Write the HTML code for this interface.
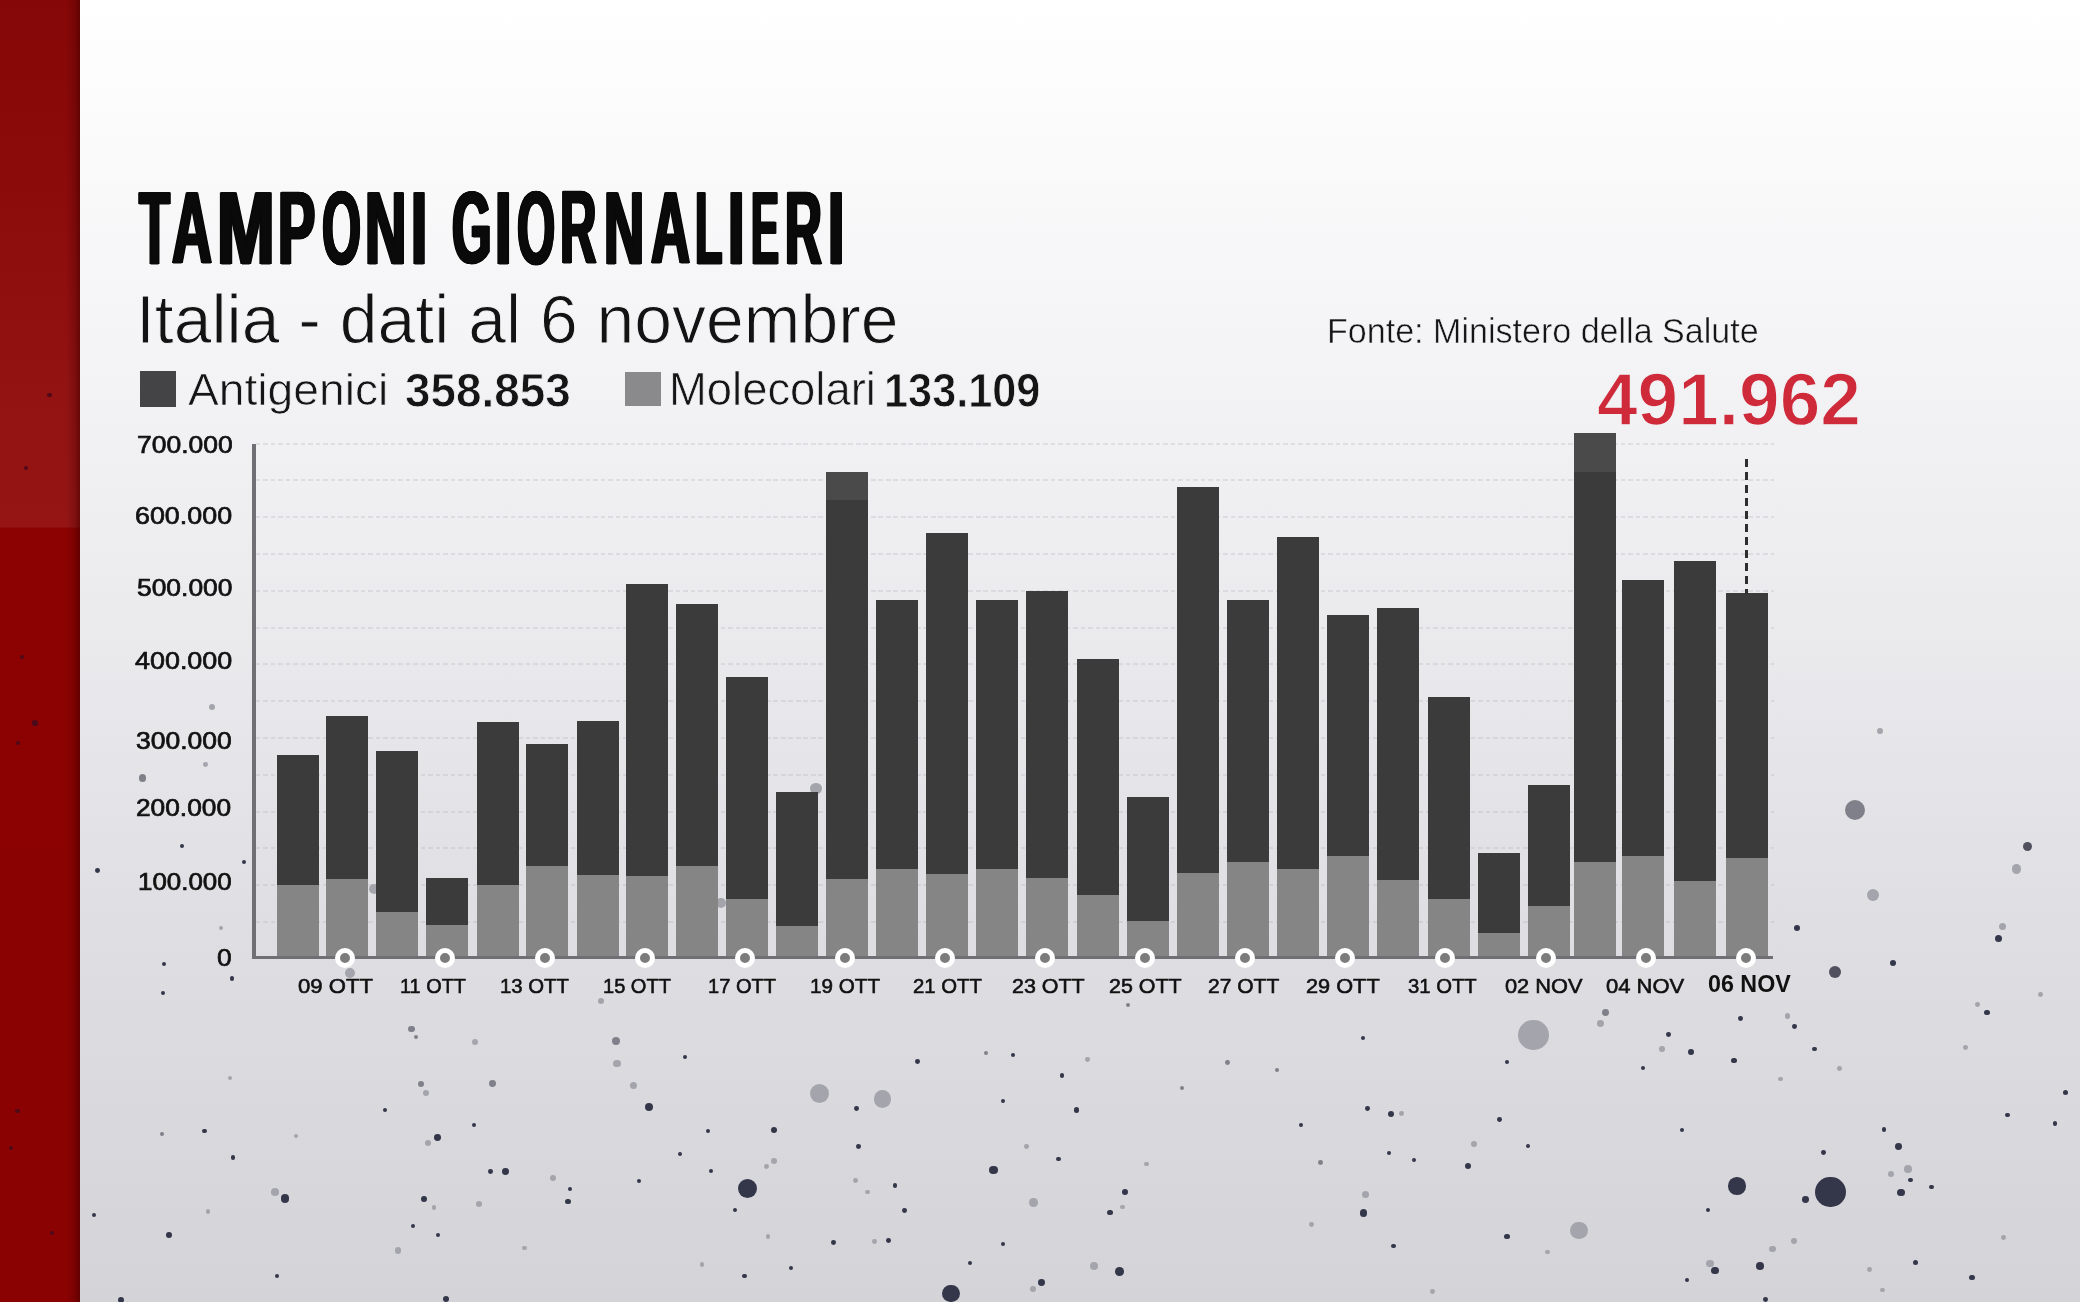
<!DOCTYPE html>
<html><head><meta charset="utf-8"><title>Tamponi giornalieri</title>
<style>
html,body{margin:0;padding:0;}
body{width:2080px;height:1302px;overflow:hidden;position:relative;font-family:"Liberation Sans",sans-serif;
background:linear-gradient(180deg,#ffffff 0px,#fbfbfc 120px,#f3f3f5 380px,#eaeaed 640px,#dedee2 950px,#d3d3d8 1302px);}
.t{position:absolute;white-space:nowrap;line-height:1;}
.a{position:absolute;}
.b{position:absolute;width:42px;background:#3b3b3b;}
.m{position:absolute;width:42px;background:#858585;}
.o{position:absolute;border-radius:50%;}
.g{position:absolute;left:256px;width:1518px;height:2px;background:repeating-linear-gradient(90deg,rgba(150,150,160,.2) 0 4.5px,transparent 4.5px 7.5px);}
</style></head><body>
<div class="a" style="left:0;top:0;width:79.5px;height:1302px;background:linear-gradient(180deg,#860707 0px,#8c0b0b 200px,#931313 400px,#951515 527px,#8c0202 528px,#8b0202 1302px);"></div>
<div class="a" style="left:66px;top:0;width:13.5px;height:1302px;background:linear-gradient(90deg,rgba(70,0,0,0) 0,rgba(70,0,0,.25) 60%,rgba(70,0,0,.6) 100%);"></div>
<div class="a" style="left:0;top:0;width:2080px;height:1302px;filter:blur(0.45px);">
<div class="o" style="left:737.9px;top:1179.0px;width:19.2px;height:19.2px;background:#34364a;"></div>
<div class="o" style="left:809.6px;top:1083.8px;width:19.2px;height:19.2px;background:#a4a4ac;"></div>
<div class="o" style="left:873.5px;top:1090.2px;width:17.4px;height:17.4px;background:#a4a4ac;"></div>
<div class="o" style="left:942.2px;top:1284.7px;width:17.4px;height:17.4px;background:#34364a;"></div>
<div class="o" style="left:1518.4px;top:1019.6px;width:30.8px;height:30.8px;background:#a4a4ac;"></div>
<div class="o" style="left:1815.3px;top:1176.5px;width:30.8px;height:30.8px;background:#34364a;"></div>
<div class="o" style="left:1728.3px;top:1177.2px;width:17.4px;height:17.4px;background:#34364a;"></div>
<div class="o" style="left:1570.3px;top:1222.1px;width:17.4px;height:17.4px;background:#a4a4ac;"></div>
<div class="o" style="left:1845.0px;top:799.8px;width:20.0px;height:20.0px;background:#80808a;"></div>
<div class="o" style="left:1867.0px;top:889.0px;width:12.0px;height:12.0px;background:#a4a4ac;"></div>
<div class="o" style="left:1829.3px;top:966.0px;width:12.0px;height:12.0px;background:#50505e;"></div>
<div class="o" style="left:2022.7px;top:842.1px;width:9.4px;height:9.4px;background:#50505e;"></div>
<div class="o" style="left:2011.7px;top:864.3px;width:9.4px;height:9.4px;background:#a4a4ac;"></div>
<div class="o" style="left:810.2px;top:782.7px;width:11.6px;height:11.6px;background:#a4a4ac;"></div>
<div class="o" style="left:368.8px;top:883.5px;width:10.0px;height:10.0px;background:#a4a4ac;"></div>
<div class="o" style="left:716.0px;top:898.0px;width:10.0px;height:10.0px;background:#a4a4ac;"></div>
<div class="o" style="left:345.0px;top:968.0px;width:10.0px;height:10.0px;background:#a4a4ac;"></div>
<div class="o" style="left:280.7px;top:1194.1px;width:8.6px;height:8.6px;background:#34364a;"></div>
<div class="o" style="left:271.4px;top:1188.2px;width:7.6px;height:7.6px;background:#a4a4ac;"></div>
<div class="o" style="left:166.1px;top:1232.3px;width:5.8px;height:5.8px;background:#34364a;"></div>
<div class="o" style="left:91.8px;top:1212.6px;width:4.4px;height:4.4px;background:#34364a;"></div>
<div class="o" style="left:202.1px;top:1128.6px;width:4.8px;height:4.8px;background:#34364a;"></div>
<div class="o" style="left:230.6px;top:1155.4px;width:4.8px;height:4.8px;background:#34364a;"></div>
<div class="o" style="left:160.0px;top:1131.6px;width:4.4px;height:4.4px;background:#80808a;"></div>
<div class="o" style="left:205.6px;top:1209.2px;width:4.8px;height:4.8px;background:#a4a4ac;"></div>
<div class="o" style="left:408.3px;top:1025.6px;width:6.8px;height:6.8px;background:#80808a;"></div>
<div class="o" style="left:414.0px;top:1034.9px;width:4.0px;height:4.0px;background:#80808a;"></div>
<div class="o" style="left:472.4px;top:1039.4px;width:6.0px;height:6.0px;background:#a4a4ac;"></div>
<div class="o" style="left:417.9px;top:1081.2px;width:6.0px;height:6.0px;background:#80808a;"></div>
<div class="o" style="left:423.0px;top:1090.4px;width:6.0px;height:6.0px;background:#a4a4ac;"></div>
<div class="o" style="left:488.9px;top:1080.3px;width:6.8px;height:6.8px;background:#80808a;"></div>
<div class="o" style="left:383.3px;top:1107.5px;width:4.0px;height:4.0px;background:#34364a;"></div>
<div class="o" style="left:434.1px;top:1134.4px;width:6.8px;height:6.8px;background:#34364a;"></div>
<div class="o" style="left:424.8px;top:1140.1px;width:6.0px;height:6.0px;background:#a4a4ac;"></div>
<div class="o" style="left:471.5px;top:1123.0px;width:4.0px;height:4.0px;background:#34364a;"></div>
<div class="o" style="left:502.1px;top:1168.1px;width:6.8px;height:6.8px;background:#34364a;"></div>
<div class="o" style="left:487.9px;top:1169.1px;width:4.8px;height:4.8px;background:#34364a;"></div>
<div class="o" style="left:420.9px;top:1195.8px;width:5.8px;height:5.8px;background:#34364a;"></div>
<div class="o" style="left:431.7px;top:1205.1px;width:4.8px;height:4.8px;background:#a4a4ac;"></div>
<div class="o" style="left:475.6px;top:1200.5px;width:6.0px;height:6.0px;background:#a4a4ac;"></div>
<div class="o" style="left:549.8px;top:1175.2px;width:6.0px;height:6.0px;background:#a4a4ac;"></div>
<div class="o" style="left:565.1px;top:1198.6px;width:5.8px;height:5.8px;background:#34364a;"></div>
<div class="o" style="left:568.0px;top:1187.0px;width:4.0px;height:4.0px;background:#34364a;"></div>
<div class="o" style="left:394.6px;top:1247.4px;width:6.8px;height:6.8px;background:#a4a4ac;"></div>
<div class="o" style="left:521.8px;top:1245.6px;width:4.8px;height:4.8px;background:#a4a4ac;"></div>
<div class="o" style="left:274.6px;top:1273.6px;width:4.0px;height:4.0px;background:#34364a;"></div>
<div class="o" style="left:442.5px;top:1295.5px;width:6.8px;height:6.8px;background:#34364a;"></div>
<div class="o" style="left:118.3px;top:1297.0px;width:6.0px;height:6.0px;background:#34364a;"></div>
<div class="o" style="left:410.7px;top:1224.0px;width:4.0px;height:4.0px;background:#34364a;"></div>
<div class="o" style="left:436.2px;top:1233.2px;width:4.0px;height:4.0px;background:#34364a;"></div>
<div class="o" style="left:228.2px;top:1076.2px;width:4.0px;height:4.0px;background:#a4a4ac;"></div>
<div class="o" style="left:293.6px;top:1133.9px;width:4.0px;height:4.0px;background:#a4a4ac;"></div>
<div class="o" style="left:612.0px;top:1036.5px;width:8.0px;height:8.0px;background:#80808a;"></div>
<div class="o" style="left:613.0px;top:1059.5px;width:7.6px;height:7.6px;background:#a4a4ac;"></div>
<div class="o" style="left:629.6px;top:1081.9px;width:7.6px;height:7.6px;background:#a4a4ac;"></div>
<div class="o" style="left:644.5px;top:1102.8px;width:8.0px;height:8.0px;background:#34364a;"></div>
<div class="o" style="left:989.2px;top:1165.5px;width:8.6px;height:8.6px;background:#34364a;"></div>
<div class="o" style="left:1029.1px;top:1198.2px;width:8.6px;height:8.6px;background:#a4a4ac;"></div>
<div class="o" style="left:1038.1px;top:1278.9px;width:6.8px;height:6.8px;background:#34364a;"></div>
<div class="o" style="left:1029.9px;top:1286.0px;width:6.0px;height:6.0px;background:#a4a4ac;"></div>
<div class="o" style="left:770.5px;top:1126.9px;width:6.0px;height:6.0px;background:#34364a;"></div>
<div class="o" style="left:705.5px;top:1128.7px;width:4.8px;height:4.8px;background:#34364a;"></div>
<div class="o" style="left:854.0px;top:1105.9px;width:4.8px;height:4.8px;background:#34364a;"></div>
<div class="o" style="left:856.2px;top:1143.8px;width:4.8px;height:4.8px;background:#34364a;"></div>
<div class="o" style="left:892.5px;top:1182.8px;width:4.8px;height:4.8px;background:#34364a;"></div>
<div class="o" style="left:902.1px;top:1208.0px;width:4.8px;height:4.8px;background:#34364a;"></div>
<div class="o" style="left:885.8px;top:1238.1px;width:4.8px;height:4.8px;background:#34364a;"></div>
<div class="o" style="left:831.4px;top:1240.0px;width:4.8px;height:4.8px;background:#34364a;"></div>
<div class="o" style="left:741.8px;top:1273.6px;width:4.8px;height:4.8px;background:#34364a;"></div>
<div class="o" style="left:789.0px;top:1266.4px;width:4.0px;height:4.0px;background:#34364a;"></div>
<div class="o" style="left:1056.0px;top:1156.6px;width:4.8px;height:4.8px;background:#34364a;"></div>
<div class="o" style="left:1059.6px;top:1073.4px;width:4.8px;height:4.8px;background:#34364a;"></div>
<div class="o" style="left:1073.5px;top:1107.3px;width:5.8px;height:5.8px;background:#34364a;"></div>
<div class="o" style="left:915.1px;top:1058.8px;width:4.8px;height:4.8px;background:#34364a;"></div>
<div class="o" style="left:1010.7px;top:1053.4px;width:4.0px;height:4.0px;background:#34364a;"></div>
<div class="o" style="left:1001.0px;top:1098.6px;width:4.0px;height:4.0px;background:#34364a;"></div>
<div class="o" style="left:983.8px;top:1050.5px;width:4.0px;height:4.0px;background:#80808a;"></div>
<div class="o" style="left:771.2px;top:1158.4px;width:6.0px;height:6.0px;background:#a4a4ac;"></div>
<div class="o" style="left:764.1px;top:1163.8px;width:4.8px;height:4.8px;background:#a4a4ac;"></div>
<div class="o" style="left:853.1px;top:1178.0px;width:4.8px;height:4.8px;background:#a4a4ac;"></div>
<div class="o" style="left:865.3px;top:1189.6px;width:4.8px;height:4.8px;background:#a4a4ac;"></div>
<div class="o" style="left:1024.2px;top:1143.8px;width:4.8px;height:4.8px;background:#a4a4ac;"></div>
<div class="o" style="left:598.2px;top:997.8px;width:6.0px;height:6.0px;background:#a4a4ac;"></div>
<div class="o" style="left:733.0px;top:1207.5px;width:4.0px;height:4.0px;background:#34364a;"></div>
<div class="o" style="left:1001.0px;top:1241.8px;width:4.0px;height:4.0px;background:#34364a;"></div>
<div class="o" style="left:677.8px;top:1152.0px;width:4.0px;height:4.0px;background:#34364a;"></div>
<div class="o" style="left:709.0px;top:1169.0px;width:4.0px;height:4.0px;background:#34364a;"></div>
<div class="o" style="left:637.4px;top:1179.3px;width:4.0px;height:4.0px;background:#34364a;"></div>
<div class="o" style="left:683.3px;top:1054.8px;width:4.0px;height:4.0px;background:#34364a;"></div>
<div class="o" style="left:968.0px;top:1260.8px;width:4.0px;height:4.0px;background:#34364a;"></div>
<div class="o" style="left:699.5px;top:1262.1px;width:4.8px;height:4.8px;background:#a4a4ac;"></div>
<div class="o" style="left:765.6px;top:1233.8px;width:4.8px;height:4.8px;background:#a4a4ac;"></div>
<div class="o" style="left:872.3px;top:1239.3px;width:4.8px;height:4.8px;background:#a4a4ac;"></div>
<div class="o" style="left:1115.4px;top:1267.4px;width:8.6px;height:8.6px;background:#34364a;"></div>
<div class="o" style="left:1090.4px;top:1261.7px;width:8.0px;height:8.0px;background:#a4a4ac;"></div>
<div class="o" style="left:1359.9px;top:1209.0px;width:7.6px;height:7.6px;background:#34364a;"></div>
<div class="o" style="left:1361.8px;top:1190.5px;width:7.6px;height:7.6px;background:#a4a4ac;"></div>
<div class="o" style="left:1464.5px;top:1162.5px;width:6.0px;height:6.0px;background:#34364a;"></div>
<div class="o" style="left:1470.5px;top:1140.8px;width:6.0px;height:6.0px;background:#a4a4ac;"></div>
<div class="o" style="left:1388.3px;top:1110.6px;width:6.0px;height:6.0px;background:#34364a;"></div>
<div class="o" style="left:1399.2px;top:1111.2px;width:4.8px;height:4.8px;background:#a4a4ac;"></div>
<div class="o" style="left:1365.3px;top:1106.1px;width:4.8px;height:4.8px;background:#34364a;"></div>
<div class="o" style="left:1121.8px;top:1189.1px;width:5.8px;height:5.8px;background:#34364a;"></div>
<div class="o" style="left:1107.1px;top:1209.7px;width:5.8px;height:5.8px;background:#34364a;"></div>
<div class="o" style="left:1120.1px;top:1204.6px;width:4.8px;height:4.8px;background:#a4a4ac;"></div>
<div class="o" style="left:1144.2px;top:1161.6px;width:4.8px;height:4.8px;background:#a4a4ac;"></div>
<div class="o" style="left:1125.6px;top:1002.5px;width:4.8px;height:4.8px;background:#80808a;"></div>
<div class="o" style="left:1503.8px;top:1233.5px;width:5.8px;height:5.8px;background:#34364a;"></div>
<div class="o" style="left:1390.8px;top:1243.6px;width:4.8px;height:4.8px;background:#34364a;"></div>
<div class="o" style="left:1497.1px;top:1117.4px;width:4.8px;height:4.8px;background:#34364a;"></div>
<div class="o" style="left:1505.4px;top:1060.1px;width:4.0px;height:4.0px;background:#34364a;"></div>
<div class="o" style="left:1299.2px;top:1123.3px;width:4.0px;height:4.0px;background:#34364a;"></div>
<div class="o" style="left:1318.0px;top:1160.2px;width:4.8px;height:4.8px;background:#80808a;"></div>
<div class="o" style="left:1387.1px;top:1151.2px;width:4.0px;height:4.0px;background:#34364a;"></div>
<div class="o" style="left:1411.7px;top:1158.0px;width:4.0px;height:4.0px;background:#34364a;"></div>
<div class="o" style="left:1225.4px;top:1060.2px;width:4.8px;height:4.8px;background:#80808a;"></div>
<div class="o" style="left:1274.6px;top:1068.3px;width:4.0px;height:4.0px;background:#80808a;"></div>
<div class="o" style="left:1180.2px;top:1086.0px;width:4.0px;height:4.0px;background:#80808a;"></div>
<div class="o" style="left:1360.7px;top:1035.8px;width:4.0px;height:4.0px;background:#34364a;"></div>
<div class="o" style="left:1526.3px;top:1143.8px;width:4.0px;height:4.0px;background:#34364a;"></div>
<div class="o" style="left:1084.8px;top:1056.8px;width:4.8px;height:4.8px;background:#a4a4ac;"></div>
<div class="o" style="left:1309.1px;top:1222.0px;width:4.8px;height:4.8px;background:#a4a4ac;"></div>
<div class="o" style="left:1545.1px;top:1249.6px;width:4.8px;height:4.8px;background:#a4a4ac;"></div>
<div class="o" style="left:1429.8px;top:1289.3px;width:4.8px;height:4.8px;background:#a4a4ac;"></div>
<div class="o" style="left:1802.1px;top:1196.2px;width:6.8px;height:6.8px;background:#34364a;"></div>
<div class="o" style="left:1897.1px;top:1188.8px;width:7.6px;height:7.6px;background:#34364a;"></div>
<div class="o" style="left:1895.3px;top:1143.3px;width:6.8px;height:6.8px;background:#34364a;"></div>
<div class="o" style="left:1904.1px;top:1165.0px;width:7.6px;height:7.6px;background:#a4a4ac;"></div>
<div class="o" style="left:1888.0px;top:1170.7px;width:6.0px;height:6.0px;background:#a4a4ac;"></div>
<div class="o" style="left:1908.1px;top:1177.6px;width:4.8px;height:4.8px;background:#34364a;"></div>
<div class="o" style="left:1929.0px;top:1184.7px;width:4.8px;height:4.8px;background:#34364a;"></div>
<div class="o" style="left:1756.0px;top:1262.2px;width:7.6px;height:7.6px;background:#34364a;"></div>
<div class="o" style="left:1711.3px;top:1266.7px;width:7.6px;height:7.6px;background:#34364a;"></div>
<div class="o" style="left:1706.0px;top:1259.8px;width:7.6px;height:7.6px;background:#a4a4ac;"></div>
<div class="o" style="left:1768.9px;top:1245.5px;width:6.8px;height:6.8px;background:#a4a4ac;"></div>
<div class="o" style="left:1790.6px;top:1237.6px;width:6.8px;height:6.8px;background:#a4a4ac;"></div>
<div class="o" style="left:1601.8px;top:1009.0px;width:6.8px;height:6.8px;background:#80808a;"></div>
<div class="o" style="left:1597.3px;top:1020.3px;width:6.8px;height:6.8px;background:#a4a4ac;"></div>
<div class="o" style="left:1688.4px;top:1049.4px;width:5.8px;height:5.8px;background:#34364a;"></div>
<div class="o" style="left:1730.9px;top:1057.5px;width:5.8px;height:5.8px;background:#34364a;"></div>
<div class="o" style="left:1666.1px;top:1032.1px;width:4.8px;height:4.8px;background:#34364a;"></div>
<div class="o" style="left:1738.2px;top:1016.0px;width:4.8px;height:4.8px;background:#34364a;"></div>
<div class="o" style="left:1792.0px;top:1024.1px;width:4.8px;height:4.8px;background:#34364a;"></div>
<div class="o" style="left:1812.0px;top:1046.5px;width:4.8px;height:4.8px;background:#34364a;"></div>
<div class="o" style="left:1984.1px;top:1009.7px;width:5.8px;height:5.8px;background:#34364a;"></div>
<div class="o" style="left:2062.7px;top:1089.5px;width:5.8px;height:5.8px;background:#34364a;"></div>
<div class="o" style="left:2005.0px;top:1112.6px;width:4.8px;height:4.8px;background:#34364a;"></div>
<div class="o" style="left:2052.6px;top:1121.3px;width:4.8px;height:4.8px;background:#34364a;"></div>
<div class="o" style="left:1881.6px;top:1127.0px;width:4.8px;height:4.8px;background:#34364a;"></div>
<div class="o" style="left:1679.5px;top:1127.5px;width:4.8px;height:4.8px;background:#34364a;"></div>
<div class="o" style="left:1820.9px;top:1149.9px;width:4.8px;height:4.8px;background:#34364a;"></div>
<div class="o" style="left:1912.7px;top:1259.7px;width:5.8px;height:5.8px;background:#34364a;"></div>
<div class="o" style="left:1969.4px;top:1274.6px;width:5.8px;height:5.8px;background:#34364a;"></div>
<div class="o" style="left:1684.6px;top:1277.6px;width:4.8px;height:4.8px;background:#34364a;"></div>
<div class="o" style="left:1763.2px;top:1297.2px;width:4.8px;height:4.8px;background:#34364a;"></div>
<div class="o" style="left:1640.5px;top:1066.4px;width:4.0px;height:4.0px;background:#34364a;"></div>
<div class="o" style="left:1705.9px;top:1208.0px;width:4.0px;height:4.0px;background:#34364a;"></div>
<div class="o" style="left:1784.6px;top:1013.1px;width:5.8px;height:5.8px;background:#a4a4ac;"></div>
<div class="o" style="left:1659.3px;top:1046.0px;width:5.8px;height:5.8px;background:#a4a4ac;"></div>
<div class="o" style="left:2001.4px;top:1235.2px;width:4.8px;height:4.8px;background:#a4a4ac;"></div>
<div class="o" style="left:1867.3px;top:1266.9px;width:4.8px;height:4.8px;background:#a4a4ac;"></div>
<div class="o" style="left:1880.0px;top:1287.6px;width:4.8px;height:4.8px;background:#a4a4ac;"></div>
<div class="o" style="left:1837.2px;top:1066.2px;width:4.8px;height:4.8px;background:#a4a4ac;"></div>
<div class="o" style="left:1777.8px;top:1076.6px;width:4.8px;height:4.8px;background:#a4a4ac;"></div>
<div class="o" style="left:1962.9px;top:1045.3px;width:4.8px;height:4.8px;background:#a4a4ac;"></div>
<div class="o" style="left:1975.4px;top:1002.0px;width:4.8px;height:4.8px;background:#a4a4ac;"></div>
<div class="o" style="left:2038.2px;top:992.4px;width:4.8px;height:4.8px;background:#a4a4ac;"></div>
<div class="o" style="left:1994.9px;top:935.1px;width:7.0px;height:7.0px;background:#34364a;"></div>
<div class="o" style="left:1998.5px;top:922.5px;width:7.0px;height:7.0px;background:#a4a4ac;"></div>
<div class="o" style="left:1890.0px;top:960.0px;width:6.0px;height:6.0px;background:#34364a;"></div>
<div class="o" style="left:1793.6px;top:925.0px;width:6.0px;height:6.0px;background:#34364a;"></div>
<div class="o" style="left:1877.0px;top:728.0px;width:6.0px;height:6.0px;background:#a4a4ac;"></div>
<div class="o" style="left:32.4px;top:720.4px;width:5.2px;height:5.2px;background:#4e0a18;"></div>
<div class="o" style="left:15.6px;top:740.8px;width:4.4px;height:4.4px;background:#4e0a18;"></div>
<div class="o" style="left:15.4px;top:1108.6px;width:4.8px;height:4.8px;background:#4e0a18;"></div>
<div class="o" style="left:8.6px;top:1145.8px;width:4.4px;height:4.4px;background:#4e0a18;"></div>
<div class="o" style="left:50.3px;top:1231.0px;width:4.0px;height:4.0px;background:#4e0a18;"></div>
<div class="o" style="left:19.6px;top:654.6px;width:4.0px;height:4.0px;background:#4e0a18;"></div>
<div class="o" style="left:47.2px;top:392.6px;width:4.8px;height:4.8px;background:#4e0a18;"></div>
<div class="o" style="left:24.4px;top:466.0px;width:4.0px;height:4.0px;background:#4e0a18;"></div>
<div class="o" style="left:138.6px;top:773.8px;width:7.8px;height:7.8px;background:#80808a;"></div>
<div class="o" style="left:95.0px;top:868.2px;width:4.8px;height:4.8px;background:#34364a;"></div>
<div class="o" style="left:179.5px;top:843.5px;width:4.0px;height:4.0px;background:#34364a;"></div>
<div class="o" style="left:241.7px;top:860.3px;width:4.0px;height:4.0px;background:#34364a;"></div>
<div class="o" style="left:229.6px;top:976.0px;width:4.8px;height:4.8px;background:#34364a;"></div>
<div class="o" style="left:162.3px;top:962.3px;width:4.0px;height:4.0px;background:#34364a;"></div>
<div class="o" style="left:161.0px;top:990.8px;width:4.0px;height:4.0px;background:#34364a;"></div>
<div class="o" style="left:218.6px;top:925.5px;width:4.8px;height:4.8px;background:#a4a4ac;"></div>
<div class="o" style="left:203.4px;top:762.3px;width:4.8px;height:4.8px;background:#a4a4ac;"></div>
<div class="o" style="left:209.2px;top:704.2px;width:6.0px;height:6.0px;background:#a4a4ac;"></div>
</div>
<div class="g" style="top:921.0px;"></div>
<div class="g" style="top:884.2px;"></div>
<div class="g" style="top:847.4px;"></div>
<div class="g" style="top:810.6px;"></div>
<div class="g" style="top:773.8px;"></div>
<div class="g" style="top:737.0px;"></div>
<div class="g" style="top:700.2px;"></div>
<div class="g" style="top:663.4px;"></div>
<div class="g" style="top:626.6px;"></div>
<div class="g" style="top:589.8px;"></div>
<div class="g" style="top:553.0px;"></div>
<div class="g" style="top:516.2px;"></div>
<div class="g" style="top:479.4px;"></div>
<div class="g" style="top:442.6px;"></div>
<div class="b" style="left:276.5px;top:755.0px;height:201.5px;"></div>
<div class="m" style="left:276.5px;top:884.5px;height:72.0px;"></div>
<div class="b" style="left:325.7px;top:716.0px;height:240.5px;"></div>
<div class="m" style="left:325.7px;top:879.0px;height:77.5px;"></div>
<div class="b" style="left:376.2px;top:751.0px;height:205.5px;"></div>
<div class="m" style="left:376.2px;top:911.5px;height:45.0px;"></div>
<div class="b" style="left:425.8px;top:878.0px;height:78.5px;"></div>
<div class="m" style="left:425.8px;top:924.5px;height:32.0px;"></div>
<div class="b" style="left:476.5px;top:722.0px;height:234.5px;"></div>
<div class="m" style="left:476.5px;top:884.5px;height:72.0px;"></div>
<div class="b" style="left:526.2px;top:744.0px;height:212.5px;"></div>
<div class="m" style="left:526.2px;top:866.0px;height:90.5px;"></div>
<div class="b" style="left:576.5px;top:721.0px;height:235.5px;"></div>
<div class="m" style="left:576.5px;top:875.0px;height:81.5px;"></div>
<div class="b" style="left:626.0px;top:583.5px;height:373.0px;"></div>
<div class="m" style="left:626.0px;top:876.0px;height:80.5px;"></div>
<div class="b" style="left:676.0px;top:604.0px;height:352.5px;"></div>
<div class="m" style="left:676.0px;top:866.0px;height:90.5px;"></div>
<div class="b" style="left:726.0px;top:676.5px;height:280.0px;"></div>
<div class="m" style="left:726.0px;top:899.0px;height:57.5px;"></div>
<div class="b" style="left:776.0px;top:792.0px;height:164.5px;"></div>
<div class="m" style="left:776.0px;top:925.5px;height:31.0px;"></div>
<div class="b" style="left:826.3px;top:472.0px;height:484.5px;"></div>
<div class="b" style="left:826.3px;top:472.0px;height:27.5px;background:#4a4a4a;"></div>
<div class="m" style="left:826.3px;top:879.0px;height:77.5px;"></div>
<div class="b" style="left:876.3px;top:600.0px;height:356.5px;"></div>
<div class="m" style="left:876.3px;top:869.0px;height:87.5px;"></div>
<div class="b" style="left:926.3px;top:533.0px;height:423.5px;"></div>
<div class="m" style="left:926.3px;top:874.0px;height:82.5px;"></div>
<div class="b" style="left:976.3px;top:600.0px;height:356.5px;"></div>
<div class="m" style="left:976.3px;top:869.0px;height:87.5px;"></div>
<div class="b" style="left:1026.3px;top:591.0px;height:365.5px;"></div>
<div class="m" style="left:1026.3px;top:877.5px;height:79.0px;"></div>
<div class="b" style="left:1076.9px;top:659.0px;height:297.5px;"></div>
<div class="m" style="left:1076.9px;top:894.5px;height:62.0px;"></div>
<div class="b" style="left:1127.0px;top:797.0px;height:159.5px;"></div>
<div class="m" style="left:1127.0px;top:921.0px;height:35.5px;"></div>
<div class="b" style="left:1177.0px;top:487.0px;height:469.5px;"></div>
<div class="m" style="left:1177.0px;top:872.5px;height:84.0px;"></div>
<div class="b" style="left:1227.0px;top:600.0px;height:356.5px;"></div>
<div class="m" style="left:1227.0px;top:862.0px;height:94.5px;"></div>
<div class="b" style="left:1277.0px;top:536.5px;height:420.0px;"></div>
<div class="m" style="left:1277.0px;top:869.0px;height:87.5px;"></div>
<div class="b" style="left:1327.0px;top:615.0px;height:341.5px;"></div>
<div class="m" style="left:1327.0px;top:855.5px;height:101.0px;"></div>
<div class="b" style="left:1377.0px;top:608.0px;height:348.5px;"></div>
<div class="m" style="left:1377.0px;top:880.0px;height:76.5px;"></div>
<div class="b" style="left:1427.7px;top:697.0px;height:259.5px;"></div>
<div class="m" style="left:1427.7px;top:898.5px;height:58.0px;"></div>
<div class="b" style="left:1478.4px;top:852.5px;height:104.0px;"></div>
<div class="m" style="left:1478.4px;top:932.5px;height:24.0px;"></div>
<div class="b" style="left:1527.7px;top:785.0px;height:171.5px;"></div>
<div class="m" style="left:1527.7px;top:906.0px;height:50.5px;"></div>
<div class="b" style="left:1573.5px;top:433.0px;height:523.5px;"></div>
<div class="b" style="left:1573.5px;top:433.0px;height:39.3px;background:#4a4a4a;"></div>
<div class="m" style="left:1573.5px;top:861.5px;height:95.0px;"></div>
<div class="b" style="left:1622.0px;top:580.0px;height:376.5px;"></div>
<div class="m" style="left:1622.0px;top:855.5px;height:101.0px;"></div>
<div class="b" style="left:1674.0px;top:561.0px;height:395.5px;"></div>
<div class="m" style="left:1674.0px;top:880.5px;height:76.0px;"></div>
<div class="b" style="left:1725.8px;top:593.0px;height:363.5px;"></div>
<div class="m" style="left:1725.8px;top:858.0px;height:98.5px;"></div>
<div class="a" style="left:252.3px;top:443.5px;width:3.4px;height:515px;background:#6f6f74;"></div>
<div class="a" style="left:252.3px;top:956px;width:1520.5px;height:2.8px;background:#6f6f74;"></div>
<div class="o" style="left:335.4px;top:947.7px;width:10px;height:10px;border:5px solid #fff;background:#7c7c7c;"></div>
<div class="o" style="left:435.4px;top:947.7px;width:10px;height:10px;border:5px solid #fff;background:#7c7c7c;"></div>
<div class="o" style="left:535.4px;top:947.7px;width:10px;height:10px;border:5px solid #fff;background:#7c7c7c;"></div>
<div class="o" style="left:635.4px;top:947.7px;width:10px;height:10px;border:5px solid #fff;background:#7c7c7c;"></div>
<div class="o" style="left:735.4px;top:947.7px;width:10px;height:10px;border:5px solid #fff;background:#7c7c7c;"></div>
<div class="o" style="left:835.4px;top:947.7px;width:10px;height:10px;border:5px solid #fff;background:#7c7c7c;"></div>
<div class="o" style="left:935.4px;top:947.7px;width:10px;height:10px;border:5px solid #fff;background:#7c7c7c;"></div>
<div class="o" style="left:1035.4px;top:947.7px;width:10px;height:10px;border:5px solid #fff;background:#7c7c7c;"></div>
<div class="o" style="left:1135.4px;top:947.7px;width:10px;height:10px;border:5px solid #fff;background:#7c7c7c;"></div>
<div class="o" style="left:1235.4px;top:947.7px;width:10px;height:10px;border:5px solid #fff;background:#7c7c7c;"></div>
<div class="o" style="left:1335.4px;top:947.7px;width:10px;height:10px;border:5px solid #fff;background:#7c7c7c;"></div>
<div class="o" style="left:1435.4px;top:947.7px;width:10px;height:10px;border:5px solid #fff;background:#7c7c7c;"></div>
<div class="o" style="left:1536.3px;top:947.7px;width:10px;height:10px;border:5px solid #fff;background:#7c7c7c;"></div>
<div class="o" style="left:1636.3px;top:947.7px;width:10px;height:10px;border:5px solid #fff;background:#7c7c7c;"></div>
<div class="o" style="left:1736.3px;top:947.7px;width:10px;height:10px;border:5px solid #fff;background:#7c7c7c;"></div>
<div class="a" style="left:1744.6px;top:458.5px;width:3px;height:135px;background:repeating-linear-gradient(180deg,#2e2e2e 0 8px,transparent 8px 13px);"></div>
<div class="a" style="left:140.2px;top:371.3px;width:35.7px;height:36.1px;background:#444446;"></div>
<div class="a" style="left:624.7px;top:371.9px;width:36.1px;height:34.6px;background:#8a8a8c;"></div>
<div class="t" style="left:139.21px;top:176.74px;font-size:103.454px;font-weight:700;color:#0a0a0a;transform:scaleX(0.4901);transform-origin:0 0;-webkit-text-stroke:1px #0a0a0a;text-shadow:1px 0 0 #0a0a0a,-1px 0 0 #0a0a0a,2px 0 0 #0a0a0a,-2px 0 0 #0a0a0a,2.8px 0 0 #0a0a0a,-2.8px 0 0 #0a0a0a;">T</div>
<div class="t" style="left:172.08px;top:176.72px;font-size:102.079px;font-weight:700;color:#0a0a0a;transform:scaleX(0.5422);transform-origin:0 0;-webkit-text-stroke:1px #0a0a0a;text-shadow:1px 0 0 #0a0a0a,-1px 0 0 #0a0a0a,2px 0 0 #0a0a0a,-2px 0 0 #0a0a0a,2.8px 0 0 #0a0a0a,-2.8px 0 0 #0a0a0a;">A</div>
<div class="t" style="left:217.02px;top:176.74px;font-size:103.454px;font-weight:700;color:#0a0a0a;transform:scaleX(0.6688);transform-origin:0 0;-webkit-text-stroke:1px #0a0a0a;text-shadow:1px 0 0 #0a0a0a,-1px 0 0 #0a0a0a,2px 0 0 #0a0a0a,-2px 0 0 #0a0a0a,2.8px 0 0 #0a0a0a,-2.8px 0 0 #0a0a0a;">M</div>
<div class="t" style="left:277.76px;top:176.81px;font-size:103.444px;font-weight:700;color:#0a0a0a;transform:scaleX(0.5398);transform-origin:0 0;-webkit-text-stroke:1px #0a0a0a;text-shadow:1px 0 0 #0a0a0a,-1px 0 0 #0a0a0a,2px 0 0 #0a0a0a,-2px 0 0 #0a0a0a,2.8px 0 0 #0a0a0a,-2.8px 0 0 #0a0a0a;">P</div>
<div class="t" style="left:321.92px;top:176.64px;font-size:103.885px;font-weight:700;color:#0a0a0a;transform:scaleX(0.4825);transform-origin:0 0;-webkit-text-stroke:1px #0a0a0a;text-shadow:1px 0 0 #0a0a0a,-1px 0 0 #0a0a0a,2px 0 0 #0a0a0a,-2px 0 0 #0a0a0a,2.8px 0 0 #0a0a0a,-2.8px 0 0 #0a0a0a;">O</div>
<div class="t" style="left:364.55px;top:176.74px;font-size:103.454px;font-weight:700;color:#0a0a0a;transform:scaleX(0.5541);transform-origin:0 0;-webkit-text-stroke:1px #0a0a0a;text-shadow:1px 0 0 #0a0a0a,-1px 0 0 #0a0a0a,2px 0 0 #0a0a0a,-2px 0 0 #0a0a0a,2.8px 0 0 #0a0a0a,-2.8px 0 0 #0a0a0a;">N</div>
<div class="t" style="left:410.61px;top:176.79px;font-size:103.395px;font-weight:700;color:#0a0a0a;transform:scaleX(0.5616);transform-origin:0 0;-webkit-text-stroke:1px #0a0a0a;text-shadow:1px 0 0 #0a0a0a,-1px 0 0 #0a0a0a,2px 0 0 #0a0a0a,-2px 0 0 #0a0a0a,2.8px 0 0 #0a0a0a,-2.8px 0 0 #0a0a0a;">I</div>
<div class="t" style="left:451.99px;top:176.87px;font-size:102.706px;font-weight:700;color:#0a0a0a;transform:scaleX(0.4941);transform-origin:0 0;-webkit-text-stroke:1px #0a0a0a;text-shadow:1px 0 0 #0a0a0a,-1px 0 0 #0a0a0a,2px 0 0 #0a0a0a,-2px 0 0 #0a0a0a,2.8px 0 0 #0a0a0a,-2.8px 0 0 #0a0a0a;">G</div>
<div class="t" style="left:494.61px;top:176.80px;font-size:103.377px;font-weight:700;color:#0a0a0a;transform:scaleX(0.5768);transform-origin:0 0;-webkit-text-stroke:1px #0a0a0a;text-shadow:1px 0 0 #0a0a0a,-1px 0 0 #0a0a0a,2px 0 0 #0a0a0a,-2px 0 0 #0a0a0a,2.8px 0 0 #0a0a0a,-2.8px 0 0 #0a0a0a;">I</div>
<div class="t" style="left:517.30px;top:176.74px;font-size:103.107px;font-weight:700;color:#0a0a0a;transform:scaleX(0.4755);transform-origin:0 0;-webkit-text-stroke:1px #0a0a0a;text-shadow:1px 0 0 #0a0a0a,-1px 0 0 #0a0a0a,2px 0 0 #0a0a0a,-2px 0 0 #0a0a0a,2.8px 0 0 #0a0a0a,-2.8px 0 0 #0a0a0a;">O</div>
<div class="t" style="left:559.68px;top:175.73px;font-size:103.785px;font-weight:700;color:#0a0a0a;transform:scaleX(0.4877);transform-origin:0 0;-webkit-text-stroke:1px #0a0a0a;text-shadow:1px 0 0 #0a0a0a,-1px 0 0 #0a0a0a,2px 0 0 #0a0a0a,-2px 0 0 #0a0a0a,2.8px 0 0 #0a0a0a,-2.8px 0 0 #0a0a0a;">R</div>
<div class="t" style="left:604.44px;top:176.74px;font-size:103.454px;font-weight:700;color:#0a0a0a;transform:scaleX(0.5381);transform-origin:0 0;-webkit-text-stroke:1px #0a0a0a;text-shadow:1px 0 0 #0a0a0a,-1px 0 0 #0a0a0a,2px 0 0 #0a0a0a,-2px 0 0 #0a0a0a,2.8px 0 0 #0a0a0a,-2.8px 0 0 #0a0a0a;">N</div>
<div class="t" style="left:650.52px;top:176.72px;font-size:102.079px;font-weight:700;color:#0a0a0a;transform:scaleX(0.5295);transform-origin:0 0;-webkit-text-stroke:1px #0a0a0a;text-shadow:1px 0 0 #0a0a0a,-1px 0 0 #0a0a0a,2px 0 0 #0a0a0a,-2px 0 0 #0a0a0a,2.8px 0 0 #0a0a0a,-2.8px 0 0 #0a0a0a;">A</div>
<div class="t" style="left:694.88px;top:176.83px;font-size:103.327px;font-weight:700;color:#0a0a0a;transform:scaleX(0.4344);transform-origin:0 0;-webkit-text-stroke:1px #0a0a0a;text-shadow:1px 0 0 #0a0a0a,-1px 0 0 #0a0a0a,2px 0 0 #0a0a0a,-2px 0 0 #0a0a0a,2.8px 0 0 #0a0a0a,-2.8px 0 0 #0a0a0a;">L</div>
<div class="t" style="left:727.61px;top:176.80px;font-size:103.377px;font-weight:700;color:#0a0a0a;transform:scaleX(0.5768);transform-origin:0 0;-webkit-text-stroke:1px #0a0a0a;text-shadow:1px 0 0 #0a0a0a,-1px 0 0 #0a0a0a,2px 0 0 #0a0a0a,-2px 0 0 #0a0a0a,2.8px 0 0 #0a0a0a,-2.8px 0 0 #0a0a0a;">I</div>
<div class="t" style="left:750.81px;top:176.74px;font-size:103.454px;font-weight:700;color:#0a0a0a;transform:scaleX(0.4046);transform-origin:0 0;-webkit-text-stroke:1px #0a0a0a;text-shadow:1px 0 0 #0a0a0a,-1px 0 0 #0a0a0a,2px 0 0 #0a0a0a,-2px 0 0 #0a0a0a,2.8px 0 0 #0a0a0a,-2.8px 0 0 #0a0a0a;">E</div>
<div class="t" style="left:784.79px;top:176.81px;font-size:103.440px;font-weight:700;color:#0a0a0a;transform:scaleX(0.4929);transform-origin:0 0;-webkit-text-stroke:1px #0a0a0a;text-shadow:1px 0 0 #0a0a0a,-1px 0 0 #0a0a0a,2px 0 0 #0a0a0a,-2px 0 0 #0a0a0a,2.8px 0 0 #0a0a0a,-2.8px 0 0 #0a0a0a;">R</div>
<div class="t" style="left:827.73px;top:176.79px;font-size:103.395px;font-weight:700;color:#0a0a0a;transform:scaleX(0.5732);transform-origin:0 0;-webkit-text-stroke:1px #0a0a0a;text-shadow:1px 0 0 #0a0a0a,-1px 0 0 #0a0a0a,2px 0 0 #0a0a0a,-2px 0 0 #0a0a0a,2.8px 0 0 #0a0a0a,-2.8px 0 0 #0a0a0a;">I</div>
<div class="t" style="left:136.09px;top:284.63px;font-size:68.023px;font-weight:400;color:#131313;transform:scaleX(0.9985);transform-origin:0 0;-webkit-text-stroke:1px #f5f5f7;">Italia - dati al 6 novembre</div>
<div class="t" style="left:187.75px;top:368.05px;font-size:44.830px;font-weight:400;color:#151515;transform:scaleX(1.0308);transform-origin:0 0;-webkit-text-stroke:0.7px #f2f2f4;">Antigenici</div>
<div class="t" style="left:405.32px;top:366.94px;font-size:47.207px;font-weight:700;color:#151515;transform:scaleX(0.9711);transform-origin:0 0;-webkit-text-stroke:0.8px #f2f2f4;">358.853</div>
<div class="t" style="left:669.17px;top:367.22px;font-size:45.563px;font-weight:400;color:#151515;transform:scaleX(0.9967);transform-origin:0 0;-webkit-text-stroke:0.7px #f2f2f4;">Molecolari</div>
<div class="t" style="left:884.21px;top:366.62px;font-size:47.716px;font-weight:700;color:#151515;transform:scaleX(0.9071);transform-origin:0 0;-webkit-text-stroke:0.8px #f2f2f4;">133.109</div>
<div class="t" style="left:1327.46px;top:313.79px;font-size:34.869px;font-weight:400;color:#151515;transform:scaleX(0.9770);transform-origin:0 0;-webkit-text-stroke:0.5px #f5f5f7;">Fonte: Ministero della Salute</div>
<div class="t" style="left:1596.89px;top:363.29px;font-size:73.760px;font-weight:700;color:#cf2a3a;transform:scaleX(0.9900);transform-origin:0 0;-webkit-text-stroke:1.4px #f1f1f4;">491.962</div>
<div class="t" style="left:136.81px;top:434.45px;font-size:23.566px;font-weight:400;color:#111;transform:scaleX(1.1239);transform-origin:0 0;-webkit-text-stroke:0.7px #111;">700.000</div>
<div class="t" style="left:135.43px;top:503.78px;font-size:24.578px;font-weight:400;color:#111;transform:scaleX(1.0932);transform-origin:0 0;-webkit-text-stroke:0.7px #111;">600.000</div>
<div class="t" style="left:136.64px;top:577.06px;font-size:23.566px;font-weight:400;color:#111;transform:scaleX(1.1214);transform-origin:0 0;-webkit-text-stroke:0.7px #111;">500.000</div>
<div class="t" style="left:135.25px;top:649.41px;font-size:24.476px;font-weight:400;color:#111;transform:scaleX(1.0995);transform-origin:0 0;-webkit-text-stroke:0.7px #111;">400.000</div>
<div class="t" style="left:136.46px;top:729.92px;font-size:23.162px;font-weight:400;color:#111;transform:scaleX(1.1439);transform-origin:0 0;-webkit-text-stroke:0.7px #111;">300.000</div>
<div class="t" style="left:136.24px;top:797.39px;font-size:23.162px;font-weight:400;color:#111;transform:scaleX(1.1350);transform-origin:0 0;-webkit-text-stroke:0.7px #111;">200.000</div>
<div class="t" style="left:137.65px;top:871.06px;font-size:23.054px;font-weight:400;color:#111;transform:scaleX(1.1236);transform-origin:0 0;-webkit-text-stroke:0.7px #111;">100.000</div>
<div class="t" style="left:216.74px;top:945.57px;font-size:24.700px;font-weight:400;color:#111;transform:scaleX(1.0683);transform-origin:0 0;-webkit-text-stroke:0.7px #111;">0</div>
<div class="t" style="left:297.61px;top:975.45px;font-size:21.113px;font-weight:400;color:#111;transform:scaleX(1.0477);transform-origin:0 0;-webkit-text-stroke:0.6px #111;">09 OTT</div>
<div class="t" style="left:400.37px;top:975.45px;font-size:21.113px;font-weight:400;color:#111;transform:scaleX(0.9420);transform-origin:0 0;-webkit-text-stroke:0.6px #111;">11 OTT</div>
<div class="t" style="left:499.95px;top:975.45px;font-size:21.113px;font-weight:400;color:#111;transform:scaleX(0.9628);transform-origin:0 0;-webkit-text-stroke:0.6px #111;">13 OTT</div>
<div class="t" style="left:602.66px;top:975.45px;font-size:21.113px;font-weight:400;color:#111;transform:scaleX(0.9498);transform-origin:0 0;-webkit-text-stroke:0.6px #111;">15 OTT</div>
<div class="t" style="left:708.13px;top:975.45px;font-size:21.113px;font-weight:400;color:#111;transform:scaleX(0.9506);transform-origin:0 0;-webkit-text-stroke:0.6px #111;">17 OTT</div>
<div class="t" style="left:810.08px;top:975.45px;font-size:21.113px;font-weight:400;color:#111;transform:scaleX(0.9787);transform-origin:0 0;-webkit-text-stroke:0.6px #111;">19 OTT</div>
<div class="t" style="left:913.33px;top:975.45px;font-size:21.113px;font-weight:400;color:#111;transform:scaleX(0.9631);transform-origin:0 0;-webkit-text-stroke:0.6px #111;">21 OTT</div>
<div class="t" style="left:1011.59px;top:975.45px;font-size:21.113px;font-weight:400;color:#111;transform:scaleX(1.0159);transform-origin:0 0;-webkit-text-stroke:0.6px #111;">23 OTT</div>
<div class="t" style="left:1109.03px;top:975.45px;font-size:21.113px;font-weight:400;color:#111;transform:scaleX(1.0160);transform-origin:0 0;-webkit-text-stroke:0.6px #111;">25 OTT</div>
<div class="t" style="left:1208.29px;top:975.45px;font-size:21.113px;font-weight:400;color:#111;transform:scaleX(0.9965);transform-origin:0 0;-webkit-text-stroke:0.6px #111;">27 OTT</div>
<div class="t" style="left:1305.54px;top:975.45px;font-size:21.113px;font-weight:400;color:#111;transform:scaleX(1.0296);transform-origin:0 0;-webkit-text-stroke:0.6px #111;">29 OTT</div>
<div class="t" style="left:1408.10px;top:975.45px;font-size:21.113px;font-weight:400;color:#111;transform:scaleX(0.9607);transform-origin:0 0;-webkit-text-stroke:0.6px #111;">31 OTT</div>
<div class="t" style="left:1505.49px;top:975.45px;font-size:21.113px;font-weight:400;color:#111;transform:scaleX(1.0320);transform-origin:0 0;-webkit-text-stroke:0.6px #111;">02 NOV</div>
<div class="t" style="left:1606.13px;top:975.45px;font-size:21.113px;font-weight:400;color:#111;transform:scaleX(1.0419);transform-origin:0 0;-webkit-text-stroke:0.6px #111;">04 NOV</div>
<div class="t" style="left:1708.40px;top:973.48px;font-size:23.597px;font-weight:700;color:#111;transform:scaleX(0.9874);transform-origin:0 0;">06 NOV</div>
</body></html>
